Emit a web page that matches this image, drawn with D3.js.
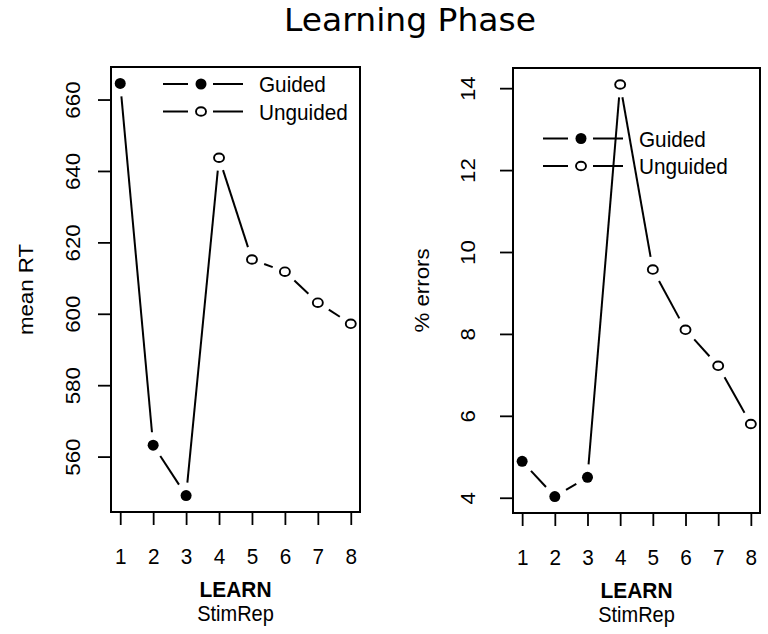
<!DOCTYPE html>
<html>
<head>
<meta charset="utf-8">
<title>Learning Phase</title>
<script src="https://d3js.org/d3.v7.min.js"></script>
<style>
  html, body { margin: 0; padding: 0; background: #fff; }
  svg { display: block; }
  text { font-family: "Liberation Sans", Arial, sans-serif; fill: #000; }
  .title { font-family: "DejaVu Sans", sans-serif; font-size: 32px; }
  .axis text { font-size: 22.3px; }
  .axis line { stroke: #000; stroke-width: 1.8px; }
</style>
</head>
<body>
<script>
  // data
  var stimRep = [1, 2, 3, 4, 5, 6, 7, 8];
  var guided = [true, true, true, false, false, false, false, false];
  var meanRT = [664.5, 563.2, 549.1, 643.7, 615.2, 611.8, 603.1, 597.2];
  var pctErrors = [4.89, 4.03, 4.50, 14.09, 9.57, 8.10, 7.22, 5.80];
  var rtTicks = [560, 580, 600, 620, 640, 660];
  var errTicks = [4, 6, 8, 10, 12, 14];
  var legendLabels = ["Guided", "Unguided"];

  var W = 768, H = 634;
  var SX = 0.93; // text in the original is a bit squeezed sideways
  var svg = d3.select("body").append("svg").attr("width", W).attr("height", H);

  svg.append("text").attr("class", "title")
     .attr("transform", "translate(410,31) scale(1.03,1)").attr("text-anchor", "middle")
     .text("Learning Phase");

  // R style 4% padding
  function padded(vals) {
    var e = d3.extent(vals), d = (e[1] - e[0]) * 0.04;
    return [e[0] - d, e[1] + d];
  }

  function label(g, x, y, txt, size, rot, bold) {
    var t = g.append("text")
      .attr("transform", "translate(" + x + "," + y + ") scale(" + SX + ",1)" + (rot ? " rotate(-90)" : ""))
      .attr("text-anchor", "middle").style("font-size", size + "px")
      .text(txt);
    if (bold) t.style("font-weight", "bold");
    return t;
  }

  function panel(opt) {
    var x = d3.scaleLinear().domain(padded(stimRep)).range([opt.left, opt.right]);
    var y = d3.scaleLinear().domain(padded(opt.values)).range([opt.bottom, opt.top]);
    var g = svg.append("g");

    g.append("rect")
     .attr("x", opt.left).attr("y", opt.top)
     .attr("width", opt.right - opt.left).attr("height", opt.bottom - opt.top)
     .attr("fill", "none").attr("stroke", "#000").attr("stroke-width", 2);

    var xa = g.append("g").attr("class", "axis")
      .attr("transform", "translate(0," + opt.bottom + ")")
      .call(d3.axisBottom(x).tickValues(stimRep).tickSize(13).tickSizeOuter(0).tickPadding(23));
    xa.select(".domain").remove();
    xa.selectAll("text").attr("transform", "scale(" + SX + ",1)");

    var ya = g.append("g").attr("class", "axis")
      .attr("transform", "translate(" + opt.left + ",0)")
      .call(d3.axisLeft(y).tickValues(opt.ticks).tickSize(13).tickSizeOuter(0));
    ya.select(".domain").remove();
    ya.selectAll("text")
      .attr("x", null).attr("dy", null)
      .attr("text-anchor", "middle")
      .attr("transform", "translate(" + (-opt.labOff) + ",0) scale(" + SX + ",1) rotate(-90)");

    label(g, opt.ylabX, (opt.top + opt.bottom) / 2, opt.ylab, 22.3, true);

    var cx = (opt.left + opt.right) / 2;
    label(g, cx, opt.bottom + 85, "LEARN", 22.5, false, true);
    label(g, cx, opt.bottom + 109, "StimRep", 21.5, false);

    // type = "b" lines: segments with gaps around points
    var gap = 13;
    for (var i = 0; i < stimRep.length - 1; i++) {
      var x1 = x(stimRep[i]), y1 = y(opt.values[i]);
      var x2 = x(stimRep[i + 1]), y2 = y(opt.values[i + 1]);
      var len = Math.hypot(x2 - x1, y2 - y1);
      if (len <= 2 * gap) continue;
      var ux = (x2 - x1) / len, uy = (y2 - y1) / len;
      g.append("line")
       .attr("x1", x1 + ux * gap).attr("y1", y1 + uy * gap)
       .attr("x2", x2 - ux * gap).attr("y2", y2 - uy * gap)
       .attr("stroke", "#000").attr("stroke-width", 2);
    }

    function marker(sel, filled) {
      if (filled) {
        sel.append("circle").attr("r", 5.5).attr("fill", "#000");
      } else {
        sel.append("ellipse").attr("rx", 5).attr("ry", 4.3)
           .attr("fill", "#fff").attr("stroke", "#000").attr("stroke-width", 1.9);
      }
    }

    stimRep.forEach(function(s, i) {
      var p = g.append("g").attr("transform", "translate(" + x(s) + "," + y(opt.values[i]) + ")");
      marker(p, guided[i]);
    });

    // legend
    legendLabels.forEach(function(lab, i) {
      var ly = opt.legY + i * 27.5;
      var lx = opt.legX;
      g.append("line").attr("x1", lx).attr("x2", lx + 25).attr("y1", ly).attr("y2", ly)
       .attr("stroke", "#000").attr("stroke-width", 2);
      g.append("line").attr("x1", lx + 50).attr("x2", lx + 80).attr("y1", ly).attr("y2", ly)
       .attr("stroke", "#000").attr("stroke-width", 2);
      var m = g.append("g").attr("transform", "translate(" + (lx + 38) + "," + ly + ")");
      marker(m, i === 0);
      g.append("text")
       .attr("transform", "translate(" + (lx + 96) + "," + ly + ") scale(" + SX + ",1)")
       .attr("dy", "0.36em")
       .style("font-size", "22.3px").text(lab);
    });
  }

  panel({ left: 111, right: 360, top: 67, bottom: 512, values: meanRT, ticks: rtTicks,
          labOff: 31, ylab: "mean RT", ylabX: 33, legX: 163, legY: 84 });
  panel({ left: 513, right: 760, top: 68, bottom: 513, values: pctErrors, ticks: errTicks,
          labOff: 38, ylab: "% errors", ylabX: 429, legX: 543, legY: 138.5 });
</script>
</body>
</html>
